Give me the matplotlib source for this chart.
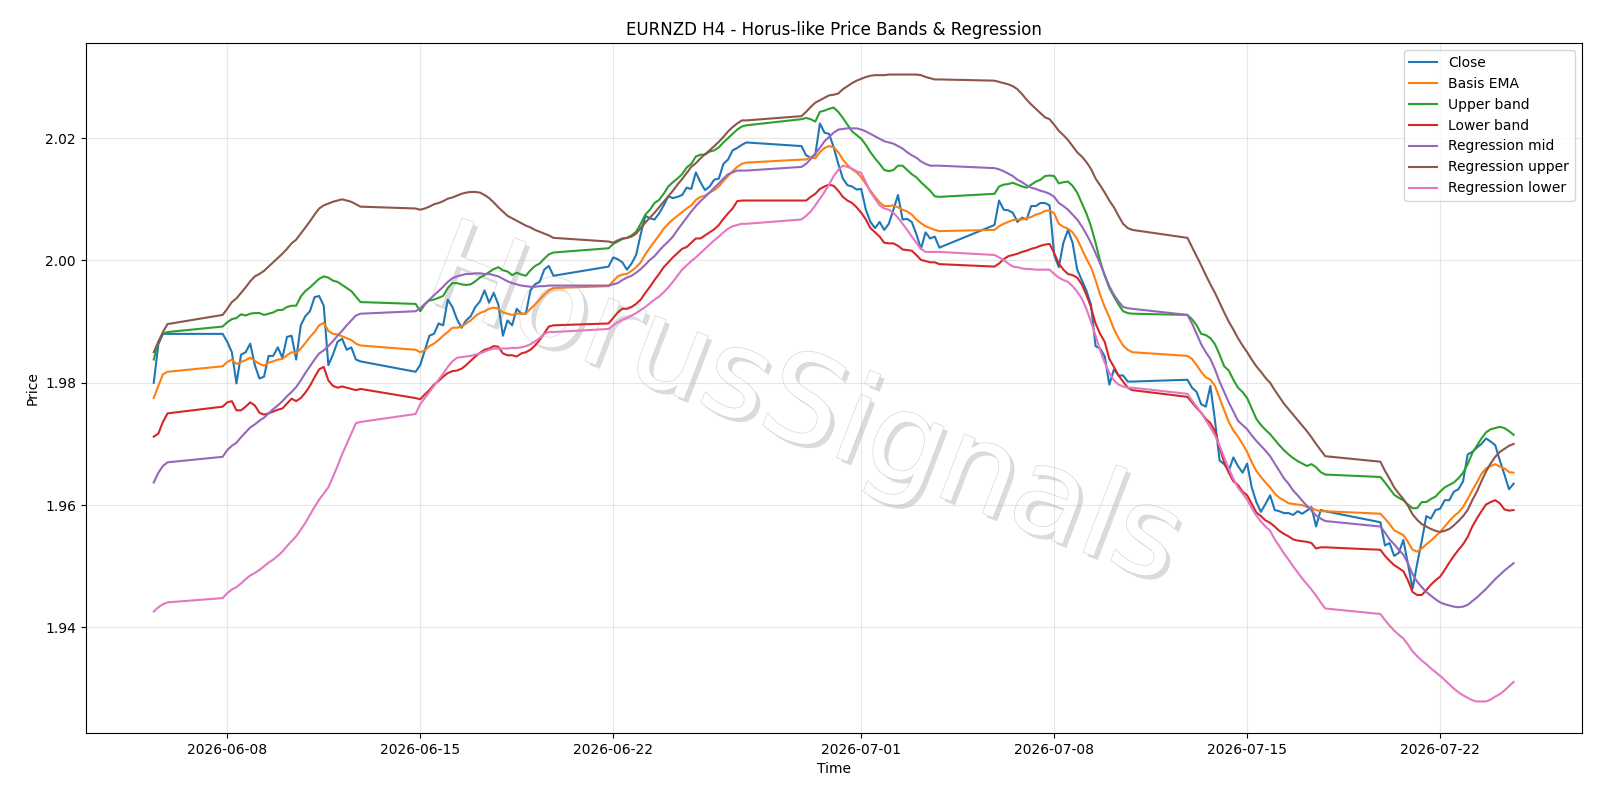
import matplotlib
matplotlib.use("Agg")
import matplotlib.pyplot as plt
import matplotlib.patheffects as pe
import pandas as pd

# H4 bars, weekdays plus the Sunday 20:00 open bar
rng = pd.date_range("2026-06-05 08:00", "2026-07-24 16:00", freq="4h")
times = rng[(rng.dayofweek <= 4) | ((rng.dayofweek == 6) & (rng.hour == 20))]

close = [1.9800, 1.9863, 1.9880, 1.9880,
         1.9880, 1.9867, 1.9850, 1.9799, 1.9846, 1.9850, 1.9864,
         1.9829, 1.9807, 1.9810, 1.9844, 1.9844, 1.9858,
         1.9841, 1.9875, 1.9877, 1.9838, 1.9894, 1.9909,
         1.9917, 1.9940, 1.9942, 1.9926, 1.9829, 1.9846,
         1.9867, 1.9872, 1.9854, 1.9858, 1.9838, 1.9835,
         1.9818, 1.9829, 1.9853, 1.9877, 1.9880, 1.9897, 1.9894,
         1.9936, 1.9924, 1.9904, 1.9890, 1.9902, 1.9909,
         1.9924, 1.9933, 1.9951, 1.9931, 1.9947, 1.9928,
         1.9877, 1.9902, 1.9894, 1.9921, 1.9913, 1.9913,
         1.9951, 1.9961, 1.9965, 1.9985, 1.9991, 1.9975,
         1.9990, 2.0005, 2.0002, 1.9997, 1.9985, 1.9995, 2.0009,
         2.0043, 2.0073, 2.0069, 2.0067, 2.0077, 2.0090,
         2.0105, 2.0102, 2.0104, 2.0107, 2.0119, 2.0117,
         2.0144, 2.0128, 2.0115, 2.0121, 2.0132, 2.0134,
         2.0158, 2.0165, 2.0180, 2.0184, 2.0189, 2.0193,
         2.0187, 2.0172, 2.0168, 2.0173, 2.0224, 2.0209, 2.0207,
         2.0185, 2.0158, 2.0134, 2.0123, 2.0121, 2.0116,
         2.0117, 2.0083, 2.0063, 2.0053, 2.0063, 2.0050,
         2.0060, 2.0083, 2.0107, 2.0067, 2.0068, 2.0063,
         2.0043, 2.0019, 2.0046, 2.0036, 2.0039, 2.0021,
         2.0058, 2.0098, 2.0083, 2.0082, 2.0078, 2.0063, 2.0070,
         2.0067, 2.0089, 2.0089, 2.0094, 2.0094, 2.0090,
         2.0009, 1.9989, 2.0029, 2.0050, 2.0029, 1.9985,
         1.9968, 1.9951, 1.9928, 1.9860, 1.9856, 1.9843,
         1.9797, 1.9822, 1.9812, 1.9812, 1.9802, 1.9802,
         1.9805, 1.9792, 1.9785, 1.9765, 1.9761, 1.9795, 1.9738,
         1.9673, 1.9667, 1.9656, 1.9678, 1.9664, 1.9653,
         1.9668, 1.9629, 1.9605, 1.9589, 1.9602, 1.9616,
         1.9592, 1.9590, 1.9587, 1.9587, 1.9584, 1.9590,
         1.9586, 1.9591, 1.9597, 1.9565, 1.9592, 1.9590,
         1.9572, 1.9534, 1.9538, 1.9517, 1.9522, 1.9543, 1.9504,
         1.9463, 1.9504, 1.9541, 1.9582, 1.9578, 1.9592,
         1.9594, 1.9608, 1.9608, 1.9622, 1.9626, 1.9639,
         1.9683, 1.9687, 1.9694, 1.9700, 1.9709, 1.9704,
         1.9698, 1.9673, 1.9650, 1.9626, 1.9635]

basis = [1.9775, 1.9795, 1.9814, 1.9818,
         1.9827, 1.9834, 1.9838, 1.9831, 1.9834, 1.9837, 1.9841,
         1.9836, 1.9831, 1.9828, 1.9833, 1.9835, 1.9838,
         1.9839, 1.9845, 1.9850, 1.9848, 1.9856, 1.9865,
         1.9875, 1.9883, 1.9894, 1.9898, 1.9885, 1.9880,
         1.9879, 1.9876, 1.9873, 1.9870, 1.9864, 1.9861,
         1.9854, 1.9850, 1.9853, 1.9860, 1.9864, 1.9870, 1.9877,
         1.9883, 1.9890, 1.9890, 1.9892, 1.9897, 1.9902,
         1.9909, 1.9914, 1.9917, 1.9921, 1.9923, 1.9921,
         1.9915, 1.9913, 1.9911, 1.9913, 1.9913, 1.9913,
         1.9921, 1.9928, 1.9936, 1.9944, 1.9951, 1.9955,
         1.9958, 1.9966, 1.9974, 1.9977, 1.9978, 1.9983, 1.9989,
         1.9997, 2.0010, 2.0021, 2.0031, 2.0041, 2.0052,
         2.0060, 2.0067, 2.0073, 2.0079, 2.0085, 2.0090,
         2.0099, 2.0104, 2.0106, 2.0111, 2.0115, 2.0121,
         2.0130, 2.0138, 2.0146, 2.0153, 2.0158, 2.0160,
         2.0165, 2.0165, 2.0169, 2.0167, 2.0177, 2.0184, 2.0187,
         2.0185, 2.0177, 2.0165, 2.0156, 2.0149, 2.0144,
         2.0136, 2.0125, 2.0114, 2.0104, 2.0095, 2.0089,
         2.0089, 2.0090, 2.0087, 2.0083, 2.0080, 2.0075,
         2.0067, 2.0061, 2.0056, 2.0053, 2.0050, 2.0048,
         2.0050, 2.0056, 2.0060, 2.0063, 2.0066, 2.0067, 2.0067,
         2.0069, 2.0071, 2.0075, 2.0077, 2.0081, 2.0082,
         2.0077, 2.0060, 2.0055, 2.0052, 2.0046, 2.0035,
         2.0019, 2.0003, 1.9989, 1.9968, 1.9944, 1.9924,
         1.9907, 1.9888, 1.9873, 1.9861, 1.9854, 1.9850,
         1.9844, 1.9839, 1.9829, 1.9818, 1.9809, 1.9805, 1.9795,
         1.9775, 1.9755, 1.9736, 1.9722, 1.9712, 1.9700,
         1.9687, 1.9670, 1.9656, 1.9646, 1.9637, 1.9629,
         1.9619, 1.9612, 1.9608, 1.9603, 1.9602, 1.9601,
         1.9600, 1.9597, 1.9595, 1.9592, 1.9590, 1.9590,
         1.9586, 1.9578, 1.9569, 1.9559, 1.9555, 1.9551, 1.9540,
         1.9527, 1.9524, 1.9529, 1.9536, 1.9542, 1.9549,
         1.9556, 1.9565, 1.9574, 1.9582, 1.9588, 1.9597,
         1.9610, 1.9624, 1.9637, 1.9651, 1.9660, 1.9664,
         1.9667, 1.9663, 1.9660, 1.9654, 1.9653]

upper = [1.9838, 1.9867, 1.9880, 1.9883,
         1.9892, 1.9899, 1.9904, 1.9906, 1.9912, 1.9910, 1.9913,
         1.9914, 1.9914, 1.9911, 1.9913, 1.9915, 1.9919,
         1.9919, 1.9924, 1.9926, 1.9926, 1.9941, 1.9950,
         1.9956, 1.9963, 1.9970, 1.9974, 1.9972, 1.9967,
         1.9965, 1.9960, 1.9955, 1.9950, 1.9941, 1.9932,
         1.9929, 1.9917, 1.9928, 1.9935, 1.9936, 1.9939, 1.9942,
         1.9955, 1.9963, 1.9963, 1.9961, 1.9960, 1.9961,
         1.9966, 1.9972, 1.9976, 1.9981, 1.9986, 1.9989,
         1.9984, 1.9982, 1.9976, 1.9980, 1.9977, 1.9975,
         1.9984, 1.9991, 1.9995, 2.0003, 2.0010, 2.0013,
         2.0020, 2.0027, 2.0031, 2.0035, 2.0037, 2.0041, 2.0047,
         2.0060, 2.0075, 2.0083, 2.0094, 2.0099, 2.0109,
         2.0121, 2.0128, 2.0134, 2.0141, 2.0152, 2.0158,
         2.0170, 2.0173, 2.0173, 2.0178, 2.0180, 2.0185,
         2.0193, 2.0200, 2.0207, 2.0214, 2.0219, 2.0221,
         2.0231, 2.0233, 2.0231, 2.0227, 2.0243, 2.0245, 2.0248,
         2.0250, 2.0243, 2.0233, 2.0222, 2.0211, 2.0205,
         2.0199, 2.0189, 2.0177, 2.0167, 2.0158, 2.0148,
         2.0146, 2.0148, 2.0155, 2.0155, 2.0148, 2.0141,
         2.0136, 2.0128, 2.0121, 2.0114, 2.0105, 2.0104,
         2.0109, 2.0121, 2.0124, 2.0125, 2.0127, 2.0124, 2.0121,
         2.0119, 2.0124, 2.0129, 2.0132, 2.0138, 2.0139,
         2.0138, 2.0126, 2.0128, 2.0129, 2.0122, 2.0111,
         2.0094, 2.0077, 2.0056, 2.0029, 1.9999, 1.9975,
         1.9955, 1.9941, 1.9928, 1.9917, 1.9914, 1.9913,
         1.9911, 1.9904, 1.9894, 1.9880, 1.9878, 1.9873, 1.9863,
         1.9846, 1.9827, 1.9820, 1.9805, 1.9792, 1.9785,
         1.9775, 1.9758, 1.9741, 1.9731, 1.9723, 1.9716,
         1.9707, 1.9698, 1.9690, 1.9683, 1.9677, 1.9672,
         1.9668, 1.9664, 1.9667, 1.9662, 1.9654, 1.9650,
         1.9646, 1.9637, 1.9627, 1.9617, 1.9612, 1.9608, 1.9601,
         1.9595, 1.9595, 1.9605, 1.9605, 1.9610, 1.9614,
         1.9622, 1.9629, 1.9633, 1.9637, 1.9644, 1.9653,
         1.9667, 1.9685, 1.9697, 1.9709, 1.9719, 1.9724,
         1.9726, 1.9728, 1.9726, 1.9721, 1.9715]

lower = [1.9712, 1.9717, 1.9736, 1.9750,
         1.9761, 1.9768, 1.9770, 1.9755, 1.9755, 1.9761, 1.9768,
         1.9763, 1.9751, 1.9748, 1.9750, 1.9753, 1.9756,
         1.9758, 1.9766, 1.9774, 1.9770, 1.9775, 1.9784,
         1.9795, 1.9809, 1.9822, 1.9826, 1.9804, 1.9795,
         1.9792, 1.9794, 1.9792, 1.9790, 1.9788, 1.9790,
         1.9775, 1.9773, 1.9781, 1.9788, 1.9797, 1.9803, 1.9810,
         1.9816, 1.9819, 1.9820, 1.9823, 1.9829, 1.9836,
         1.9843, 1.9849, 1.9854, 1.9856, 1.9860, 1.9859,
         1.9848, 1.9845, 1.9845, 1.9843, 1.9848, 1.9850,
         1.9854, 1.9861, 1.9870, 1.9881, 1.9892, 1.9894,
         1.9897, 1.9906, 1.9915, 1.9921, 1.9921, 1.9924, 1.9929,
         1.9936, 1.9947, 1.9957, 1.9968, 1.9978, 1.9989,
         1.9997, 2.0005, 2.0012, 2.0019, 2.0022, 2.0029,
         2.0036, 2.0036, 2.0041, 2.0046, 2.0051, 2.0058,
         2.0068, 2.0077, 2.0085, 2.0097, 2.0098, 2.0098,
         2.0098, 2.0098, 2.0104, 2.0109, 2.0117, 2.0121, 2.0124,
         2.0122, 2.0114, 2.0104, 2.0098, 2.0094, 2.0087,
         2.0078, 2.0067, 2.0053, 2.0046, 2.0039, 2.0029,
         2.0028, 2.0028, 2.0024, 2.0018, 2.0017, 2.0016,
         2.0009, 2.0001, 1.9999, 1.9997, 1.9997, 1.9994,
         1.9990, 1.9995, 2.0002, 2.0007, 2.0009, 2.0011, 2.0014,
         2.0016, 2.0019, 2.0021, 2.0024, 2.0026, 2.0027,
         2.0012, 1.9995, 1.9985, 1.9978, 1.9976, 1.9972,
         1.9961, 1.9944, 1.9924, 1.9897, 1.9880, 1.9867,
         1.9839, 1.9826, 1.9812, 1.9802, 1.9792, 1.9788,
         1.9777, 1.9768, 1.9759, 1.9751, 1.9741, 1.9734, 1.9721,
         1.9694, 1.9670, 1.9653, 1.9639, 1.9633, 1.9622,
         1.9616, 1.9602, 1.9588, 1.9582, 1.9575, 1.9571,
         1.9565, 1.9558, 1.9553, 1.9549, 1.9544, 1.9542,
         1.9541, 1.9540, 1.9538, 1.9529, 1.9531, 1.9531,
         1.9527, 1.9517, 1.9509, 1.9502, 1.9497, 1.9492, 1.9477,
         1.9458, 1.9453, 1.9453, 1.9461, 1.9470, 1.9477,
         1.9483, 1.9494, 1.9506, 1.9517, 1.9527, 1.9536,
         1.9548, 1.9565, 1.9578, 1.9590, 1.9601, 1.9605,
         1.9608, 1.9603, 1.9593, 1.9591, 1.9592]

reg_mid = [1.9637, 1.9653, 1.9664, 1.9670,
           1.9679, 1.9690, 1.9697, 1.9702, 1.9711, 1.9719, 1.9727,
           1.9732, 1.9738, 1.9743, 1.9750, 1.9757, 1.9763,
           1.9770, 1.9778, 1.9785, 1.9793, 1.9804, 1.9816,
           1.9827, 1.9838, 1.9848, 1.9853, 1.9860, 1.9868,
           1.9877, 1.9885, 1.9894, 1.9902, 1.9910, 1.9913,
           1.9917, 1.9922, 1.9929, 1.9936, 1.9943, 1.9950, 1.9957,
           1.9965, 1.9971, 1.9974, 1.9976, 1.9978, 1.9978,
           1.9979, 1.9979, 1.9978, 1.9978, 1.9976, 1.9974,
           1.9970, 1.9966, 1.9963, 1.9961, 1.9959, 1.9958,
           1.9957, 1.9957, 1.9958, 1.9958, 1.9959, 1.9959,
           1.9959, 1.9961, 1.9963, 1.9968, 1.9972, 1.9975, 1.9980,
           1.9986, 1.9993, 2.0001, 2.0007, 2.0016, 2.0024,
           2.0031, 2.0039, 2.0050, 2.0060, 2.0070, 2.0080,
           2.0089, 2.0097, 2.0104, 2.0111, 2.0119, 2.0126,
           2.0134, 2.0141, 2.0144, 2.0147, 2.0147, 2.0147,
           2.0153, 2.0158, 2.0166, 2.0175, 2.0184, 2.0195, 2.0202,
           2.0209, 2.0214, 2.0215, 2.0216, 2.0216, 2.0216,
           2.0214, 2.0211, 2.0207, 2.0203, 2.0199, 2.0195,
           2.0193, 2.0191, 2.0187, 2.0183, 2.0177, 2.0172,
           2.0168, 2.0162, 2.0158, 2.0155, 2.0155, 2.0155,
           2.0151, 2.0149, 2.0146, 2.0142, 2.0138, 2.0132, 2.0128,
           2.0123, 2.0119, 2.0117, 2.0114, 2.0112, 2.0109,
           2.0104, 2.0094, 2.0089, 2.0083, 2.0075, 2.0067,
           2.0056, 2.0043, 2.0029, 2.0012, 1.9995, 1.9976,
           1.9958, 1.9944, 1.9933, 1.9924, 1.9922, 1.9921,
           1.9911, 1.9897, 1.9880, 1.9863, 1.9850, 1.9839, 1.9822,
           1.9802, 1.9785, 1.9768, 1.9753, 1.9738, 1.9731,
           1.9724, 1.9714, 1.9705, 1.9697, 1.9689, 1.9680,
           1.9668, 1.9656, 1.9644, 1.9635, 1.9624, 1.9616,
           1.9607, 1.9599, 1.9591, 1.9583, 1.9578, 1.9574,
           1.9565, 1.9555, 1.9544, 1.9536, 1.9527, 1.9519, 1.9505,
           1.9487, 1.9475, 1.9466, 1.9458, 1.9452, 1.9446,
           1.9441, 1.9438, 1.9436, 1.9434, 1.9433, 1.9434,
           1.9437, 1.9443, 1.9449, 1.9456, 1.9463, 1.9471,
           1.9479, 1.9486, 1.9493, 1.9499, 1.9505]

reg_upper = [1.9850, 1.9867, 1.9883, 1.9896,
             1.9911, 1.9921, 1.9932, 1.9938, 1.9947, 1.9956, 1.9966,
             1.9974, 1.9978, 1.9983, 1.9990, 1.9997, 2.0004,
             2.0011, 2.0019, 2.0028, 2.0034, 2.0044, 2.0054,
             2.0064, 2.0075, 2.0085, 2.0090, 2.0093, 2.0096,
             2.0098, 2.0100, 2.0098, 2.0096, 2.0092, 2.0088,
             2.0085, 2.0083, 2.0085, 2.0088, 2.0092, 2.0094, 2.0097,
             2.0101, 2.0103, 2.0106, 2.0109, 2.0111, 2.0112,
             2.0112, 2.0111, 2.0107, 2.0102, 2.0095, 2.0087,
             2.0080, 2.0073, 2.0069, 2.0065, 2.0061, 2.0057,
             2.0054, 2.0050, 2.0047, 2.0044, 2.0041, 2.0037,
             2.0031, 2.0029, 2.0033, 2.0036, 2.0037, 2.0039, 2.0044,
             2.0053, 2.0062, 2.0070, 2.0078, 2.0087, 2.0096,
             2.0105, 2.0114, 2.0124, 2.0133, 2.0143, 2.0153,
             2.0159, 2.0167, 2.0174, 2.0180, 2.0187, 2.0194,
             2.0202, 2.0211, 2.0218, 2.0224, 2.0229, 2.0229,
             2.0236, 2.0243, 2.0251, 2.0258, 2.0262, 2.0266, 2.0270,
             2.0271, 2.0273, 2.0280, 2.0285, 2.0290, 2.0294,
             2.0297, 2.0300, 2.0302, 2.0303, 2.0303, 2.0303,
             2.0304, 2.0304, 2.0304, 2.0304, 2.0304, 2.0304,
             2.0304, 2.0303, 2.0300, 2.0298, 2.0296, 2.0296,
             2.0294, 2.0292, 2.0290, 2.0288, 2.0285, 2.0280, 2.0272,
             2.0263, 2.0255, 2.0248, 2.0241, 2.0234, 2.0231,
             2.0222, 2.0212, 2.0205, 2.0197, 2.0187, 2.0177,
             2.0170, 2.0161, 2.0150, 2.0134, 2.0123, 2.0111,
             2.0098, 2.0087, 2.0073, 2.0060, 2.0053, 2.0050,
             2.0037, 2.0022, 2.0007, 1.9992, 1.9976, 1.9961, 1.9947,
             1.9931, 1.9915, 1.9900, 1.9887, 1.9873, 1.9861,
             1.9850, 1.9838, 1.9827, 1.9818, 1.9808, 1.9800,
             1.9788, 1.9777, 1.9766, 1.9757, 1.9748, 1.9739,
             1.9730, 1.9721, 1.9711, 1.9700, 1.9690, 1.9680,
             1.9671, 1.9656, 1.9643, 1.9629, 1.9619, 1.9610, 1.9599,
             1.9585, 1.9576, 1.9569, 1.9565, 1.9561, 1.9558,
             1.9556, 1.9558, 1.9561, 1.9567, 1.9574, 1.9582,
             1.9592, 1.9608, 1.9622, 1.9639, 1.9655, 1.9668,
             1.9679, 1.9687, 1.9692, 1.9697, 1.9700]

reg_lower = [1.9426, 1.9433, 1.9438, 1.9441,
             1.9448, 1.9456, 1.9462, 1.9466, 1.9472, 1.9479, 1.9485,
             1.9489, 1.9494, 1.9500, 1.9506, 1.9511, 1.9517,
             1.9524, 1.9533, 1.9541, 1.9549, 1.9560, 1.9571,
             1.9584, 1.9597, 1.9609, 1.9619, 1.9629, 1.9646,
             1.9664, 1.9683, 1.9700, 1.9717, 1.9734, 1.9736,
             1.9749, 1.9765, 1.9775, 1.9785, 1.9795, 1.9805, 1.9815,
             1.9826, 1.9835, 1.9841, 1.9842, 1.9843, 1.9844,
             1.9846, 1.9848, 1.9851, 1.9854, 1.9856, 1.9856,
             1.9856, 1.9856, 1.9857, 1.9857, 1.9858, 1.9860,
             1.9863, 1.9868, 1.9873, 1.9880, 1.9883, 1.9883,
             1.9888, 1.9894, 1.9899, 1.9903, 1.9906, 1.9910, 1.9914,
             1.9919, 1.9924, 1.9930, 1.9936, 1.9941, 1.9948,
             1.9956, 1.9965, 1.9975, 1.9985, 1.9992, 1.9999,
             2.0005, 2.0012, 2.0019, 2.0026, 2.0033, 2.0039,
             2.0046, 2.0052, 2.0056, 2.0058, 2.0060, 2.0060,
             2.0067, 2.0073, 2.0080, 2.0090, 2.0101, 2.0112, 2.0124,
             2.0138, 2.0148, 2.0155, 2.0153, 2.0150, 2.0146,
             2.0143, 2.0128, 2.0112, 2.0101, 2.0090, 2.0085,
             2.0083, 2.0078, 2.0070, 2.0060, 2.0050, 2.0039,
             2.0029, 2.0019, 2.0014, 2.0014, 2.0014, 2.0014,
             2.0009, 2.0005, 2.0001, 1.9995, 1.9990, 1.9989, 1.9987,
             1.9986, 1.9986, 1.9985, 1.9985, 1.9985, 1.9985,
             1.9978, 1.9972, 1.9968, 1.9965, 1.9958, 1.9949,
             1.9938, 1.9921, 1.9900, 1.9877, 1.9853, 1.9833,
             1.9816, 1.9804, 1.9797, 1.9794, 1.9792, 1.9792,
             1.9782, 1.9771, 1.9761, 1.9751, 1.9739, 1.9727, 1.9714,
             1.9697, 1.9678, 1.9660, 1.9643, 1.9629, 1.9619,
             1.9609, 1.9595, 1.9583, 1.9573, 1.9565, 1.9558,
             1.9544, 1.9533, 1.9521, 1.9511, 1.9500, 1.9490,
             1.9480, 1.9471, 1.9462, 1.9452, 1.9441, 1.9431,
             1.9422, 1.9412, 1.9403, 1.9395, 1.9388, 1.9382, 1.9372,
             1.9361, 1.9353, 1.9346, 1.9340, 1.9333, 1.9327,
             1.9321, 1.9314, 1.9307, 1.9300, 1.9294, 1.9289,
             1.9285, 1.9281, 1.9279, 1.9279, 1.9279, 1.9282,
             1.9287, 1.9291, 1.9297, 1.9304, 1.9311]

series = [("Close", close), ("Basis EMA", basis), ("Upper band", upper),
          ("Lower band", lower), ("Regression mid", reg_mid),
          ("Regression upper", reg_upper), ("Regression lower", reg_lower)]

for name, vals in series:
    assert len(vals) == len(times), (name, len(vals), len(times))

fig, ax = plt.subplots(figsize=(16, 8), dpi=100)
fig.subplots_adjust(left=0.0536, right=0.9885, top=0.946, bottom=0.084)

for name, vals in series:
    ax.plot(times, vals, label=name, linewidth=1.5)

# watermark
ax.text(0.48, 0.47, "HorusSignals", transform=ax.transAxes, ha="center", va="center",
        rotation=-21, fontsize=88, color="white", zorder=0,
        path_effects=[pe.withSimplePatchShadow(offset=(3, -3), shadow_rgbFace="#9a9a9a", alpha=0.35),
                      pe.Stroke(linewidth=1.0, foreground="#d6d6d6"), pe.Normal()])

ax.set_title("EURNZD H4 - Horus-like Price Bands & Regression")
ax.set_xlabel("Time")
ax.set_ylabel("Price")
ax.grid(True, alpha=0.3)
ax.legend(loc="upper right")

fig.savefig("out.png")
